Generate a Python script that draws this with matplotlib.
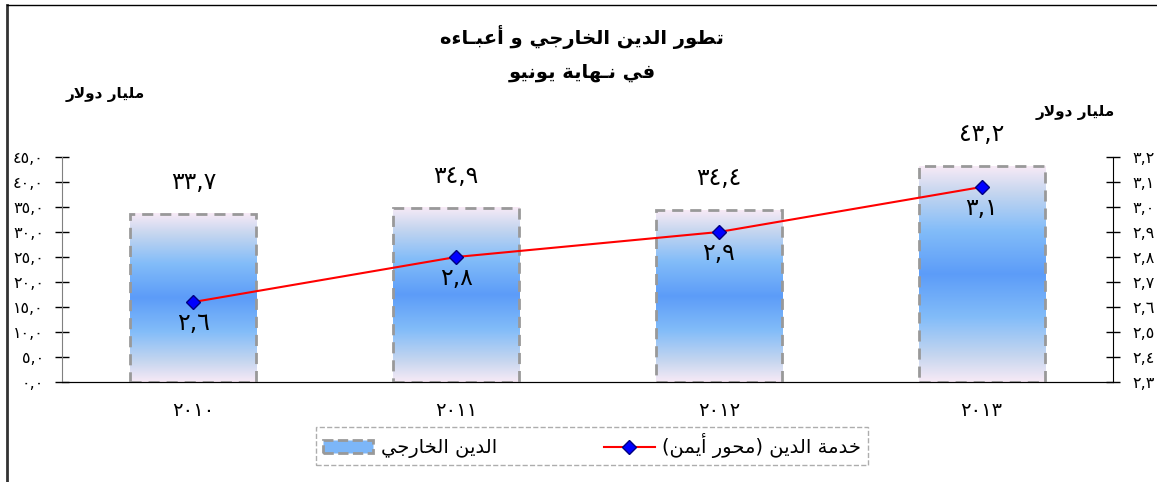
import matplotlib
matplotlib.use("Agg")
import matplotlib.pyplot as plt
import numpy as np
from matplotlib.colors import LinearSegmentedColormap
from matplotlib.lines import Line2D
from matplotlib.patches import Patch

# البيانات
years = [2010, 2011, 2012, 2013]
external_debt = [33.7, 34.9, 34.4, 43.2]   # مليار دولار (المحور الأيسر)
debt_service = [2.62, 2.80, 2.90, 3.08]    # مليار دولار (المحور الأيمن)
left_ticks = [0, 5, 10, 15, 20, 25, 30, 35, 40, 45]
right_ticks = [2.3, 2.4, 2.5, 2.6, 2.7, 2.8, 2.9, 3.0, 3.1, 3.2]

title_1 = "تطور الدين الخارجي و أعبـاءه"
title_2 = "في نـهاية يونيو"
unit_label = "مليار دولار"
debt_label = "الدين الخارجي"
service_label = "خدمة الدين (محور أيمن)"

plt.rcParams['font.family'] = ['DejaVu Sans']

# تشكيل الحروف العربية يدويا (matplotlib لا يدعم التشكيل ولا الاتجاه)
FORMS = {
    'ء': ('\ufe80', None, None, None),
    'أ': ('\ufe83', '\ufe84', None, None),
    'ا': ('\ufe8d', '\ufe8e', None, None),
    'ب': ('\ufe8f', '\ufe90', '\ufe91', '\ufe92'),
    'ة': ('\ufe93', '\ufe94', None, None),
    'ت': ('\ufe95', '\ufe96', '\ufe97', '\ufe98'),
    'ج': ('\ufe9d', '\ufe9e', '\ufe9f', '\ufea0'),
    'ح': ('\ufea1', '\ufea2', '\ufea3', '\ufea4'),
    'خ': ('\ufea5', '\ufea6', '\ufea7', '\ufea8'),
    'د': ('\ufea9', '\ufeaa', None, None),
    'ر': ('\ufead', '\ufeae', None, None),
    'ط': ('\ufec1', '\ufec2', '\ufec3', '\ufec4'),
    'ع': ('\ufec9', '\ufeca', '\ufecb', '\ufecc'),
    'ف': ('\ufed1', '\ufed2', '\ufed3', '\ufed4'),
    'ل': ('\ufedd', '\ufede', '\ufedf', '\ufee0'),
    'م': ('\ufee1', '\ufee2', '\ufee3', '\ufee4'),
    'ن': ('\ufee5', '\ufee6', '\ufee7', '\ufee8'),
    'ه': ('\ufee9', '\ufeea', '\ufeeb', '\ufeec'),
    'و': ('\ufeed', '\ufeee', None, None),
    'ي': ('\ufef1', '\ufef2', '\ufef3', '\ufef4'),
    'ـ': ('ـ', 'ـ', 'ـ', 'ـ'),
}
LAM_ALEF = {'ا': ('\ufefb', '\ufefc'), 'أ': ('\ufef7', '\ufef8')}
MIRROR = {'(': ')', ')': '('}


def ar(text):
    out = []
    n = len(text)
    i = 0
    while i < n:
        c = text[i]
        if c not in FORMS:
            out.append(c)
            i += 1
            continue
        prev = text[i - 1] if i > 0 else None
        prev_joins = prev in FORMS and FORMS[prev][2] is not None
        if c == 'ل' and i + 1 < n and text[i + 1] in LAM_ALEF:
            iso, fin = LAM_ALEF[text[i + 1]]
            out.append(fin if prev_joins else iso)
            i += 2
            continue
        nxt = text[i + 1] if i + 1 < n else None
        next_joins = nxt in FORMS and FORMS[nxt][1] is not None
        iso, fin, ini, med = FORMS[c]
        if prev_joins and next_joins and med:
            out.append(med)
        elif prev_joins and fin:
            out.append(fin)
        elif next_joins and ini:
            out.append(ini)
        else:
            out.append(iso)
        i += 1
    return ''.join(MIRROR.get(ch, ch) for ch in reversed(out))


DIGITS = str.maketrans('0123456789', '٠١٢٣٤٥٦٧٨٩')


def ar_num(v, fmt='{:.1f}'):
    return fmt.format(v).replace('.', ',').translate(DIGITS)


fig = plt.figure(figsize=(11.57, 4.82), dpi=100)
ax = fig.add_axes([62 / 1157, 1 - 382 / 482, (1113 - 62) / 1157, 225 / 482])
ax2 = ax.twinx()

x = np.arange(len(years))
grad_cmap = LinearSegmentedColormap.from_list('bar', [
    (0.0, '#f7eaf6'), (0.12, '#c6d6ef'), (0.3, '#82bcf9'),
    (0.5, '#5c9cf8'), (0.7, '#82bcf9'), (0.88, '#c6d6ef'), (1.0, '#f7eaf6')])
gradient = np.linspace(0, 1, 256).reshape(-1, 1)

bars = ax.bar(x, external_debt, width=0.48, facecolor='none', edgecolor='#999999',
              linewidth=2.0, linestyle=(0, (4, 2.5)), zorder=3)
for rect in bars:
    x0, y0 = rect.get_x(), rect.get_y()
    ax.imshow(gradient, cmap=grad_cmap, aspect='auto', zorder=2,
              extent=(x0, x0 + rect.get_width(), y0, y0 + rect.get_height()))

for xi, v in zip(x, external_debt):
    ax.annotate(ar_num(v), (xi, v), xytext=(0, 32), textcoords='offset pixels',
                ha='center', va='center', fontsize=17)

ax.set_xlim(-0.5, len(years) - 0.5)
ax.set_ylim(0, 45)
ax.set_yticks(left_ticks)
ax.set_yticklabels([ar_num(t) for t in left_ticks], fontsize=11.5)
ax.set_xticks(x)
ax.set_xticklabels([ar_num(y, '{:d}') for y in years], fontsize=14)
ax.tick_params(axis='x', length=0, pad=14)
ax.tick_params(axis='y', direction='inout', length=10, width=1, pad=8)

ax2.plot(x, debt_service, color='#ff0000', linewidth=1.5, marker='D', markersize=7.5,
         markerfacecolor='#0000ff', markeredgecolor='#000080', zorder=4)
for xi, v in zip(x, debt_service):
    ax2.annotate(ar_num(v), (xi, v), xytext=(0, -21), textcoords='offset pixels',
                 ha='center', va='center', fontsize=17)
ax2.set_ylim(2.3, 3.2)
ax2.set_yticks(right_ticks)
ax2.set_yticklabels([ar_num(t) for t in right_ticks], fontsize=11.5)
ax2.tick_params(axis='y', direction='inout', length=10, width=1, pad=9)

for a in (ax, ax2):
    a.spines['top'].set_visible(False)
    a.set_facecolor('none')
ax.spines['right'].set_visible(False)
ax2.spines['left'].set_visible(False)
ax.spines['left'].set_color('#808080')

# العناوين
fig.text(0.503, 1 - 37 / 482, ar(title_1), ha='center', va='center',
         fontsize=14, fontweight='bold')
fig.text(0.503, 1 - 72 / 482, ar(title_2), ha='center', va='center',
         fontsize=14, fontweight='bold')
fig.text(105 / 1157, 1 - 95 / 482, ar(unit_label), ha='center', va='center',
         fontsize=11, fontweight='bold')
fig.text(1075 / 1157, 1 - 112 / 482, ar(unit_label), ha='center', va='center',
         fontsize=11, fontweight='bold')

# وسيلة الإيضاح
handles = [
    Patch(facecolor='#7cb6f8', edgecolor='#999999', linewidth=2, linestyle='--'),
    Line2D([0], [0], color='#ff0000', linewidth=1.5, marker='D', markersize=7,
           markerfacecolor='#0000ff', markeredgecolor='#000080'),
]
leg = fig.legend(handles, [ar(debt_label), ar(service_label)], ncol=2,
                 loc='center', bbox_to_anchor=(592 / 1157, 1 - 446 / 482),
                 fontsize=14, handlelength=2.6, handleheight=0.6, handletextpad=0.4,
                 columnspacing=5.5, borderpad=0.35, fancybox=False)
frame = leg.get_frame()
frame.set_edgecolor('#999999')
frame.set_linestyle('--')
frame.set_linewidth(1)

# إطار الرسم
fig.add_artist(Line2D([7 / 1157, 7 / 1157], [0, 1 - 5 / 482], color='#333333',
                      linewidth=2, transform=fig.transFigure))
fig.add_artist(Line2D([7 / 1157, 1], [1 - 5 / 482, 1 - 5 / 482], color='black',
                      linewidth=1, transform=fig.transFigure))

fig.savefig('out.png', dpi=100)
